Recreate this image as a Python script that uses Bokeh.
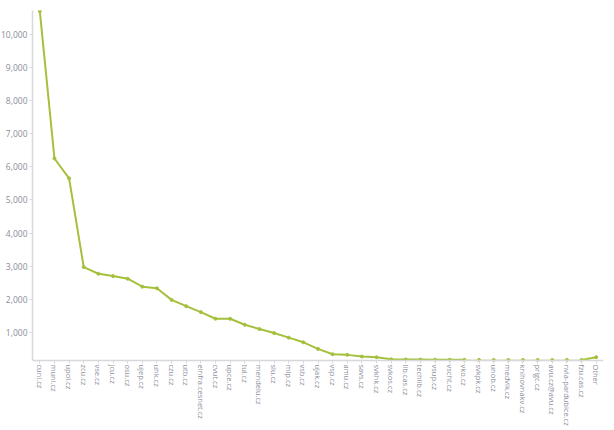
from bokeh.plotting import figure
from bokeh.models import Range1d, FixedTicker, NumeralTickFormatter, ColumnDataSource
from bokeh.embed import file_html
from bokeh.resources import INLINE

domains = ["cuni.cz", "muni.cz", "upol.cz", "zcu.cz", "vse.cz", "jcu.cz", "osu.cz",
           "ujep.cz", "uhk.cz", "czu.cz", "utb.cz", "einfra.cesnet.cz", "cvut.cz",
           "upce.cz", "tul.cz", "mendelu.cz", "slu.cz", "mlp.cz", "vsb.cz", "ujak.cz",
           "vsp.cz", "amu.cz", "savs.cz", "svkhk.cz", "svkos.cz", "lib.cas.cz",
           "techlib.cz", "vsup.cz", "vscht.cz", "vko.cz", "svkpk.cz", "unob.cz",
           "medvik.cz", "knihovnakv.cz", "prigc.cz", "avu.cz@avu.cz",
           "nvia-pardubice.cz", "fzu.cas.cz", "Other"]
counts = [10700, 6250, 5650, 2970, 2770, 2700, 2620, 2380, 2330, 1980, 1790, 1610,
          1410, 1410, 1230, 1100, 980, 840, 700, 500, 340, 320, 270, 250, 185,
          180, 178, 175, 172, 170, 168, 168, 168, 168, 168, 168, 168, 168, 250]
y_ticks = [1000, 2000, 3000, 4000, 5000, 6000, 7000, 8000, 9000, 10000]
Y_MIN, Y_MAX = 150, 10720

GREEN = "#a4c03c"
AXIS = "#d6d8dc"
LABEL = "#8a8d99"

# frame: plot area 350 px tall, plus 70 px of room for the rotated labels inside it
Y_LOW = Y_MIN - (Y_MAX - Y_MIN) * 70 / 350

src_main = ColumnDataSource(dict(x=domains[:30], y=counts[:30]))
src_faint = ColumnDataSource(dict(x=domains[29:38], y=counts[29:38]))
src_end = ColumnDataSource(dict(x=domains[37:], y=counts[37:]))
src_all = ColumnDataSource(dict(x=domains, y=counts))

p = figure(x_range=domains, y_range=Range1d(Y_LOW, Y_MAX), width=608, height=430,
           output_backend="svg", toolbar_location=None,
           min_border_left=2, min_border_right=2, min_border_top=10, min_border_bottom=0)
p.styles = {"margin-left": "-3px"}
p.outline_line_color = None
p.grid.visible = False

p.line("x", "y", source=src_main, line_color=GREEN, line_width=2)
p.line("x", "y", source=src_faint, line_color=GREEN, line_width=1.5, line_alpha=0.3)
p.line("x", "y", source=src_end, line_color=GREEN, line_width=2)
p.scatter("x", "y", source=src_all, size=3, color=GREEN)

p.yaxis.ticker = FixedTicker(ticks=y_ticks)
p.yaxis.formatter = NumeralTickFormatter(format="0,0")
p.yaxis.bounds = (Y_MIN, Y_MAX)
p.xaxis.fixed_location = Y_MIN
for ax in (p.xaxis[0], p.yaxis[0]):
    ax.axis_line_color = AXIS
    ax.axis_line_width = 1.5
    ax.major_tick_line_color = AXIS
    ax.major_tick_out = 3
    ax.major_tick_in = 0
    ax.minor_tick_line_color = None
    ax.major_label_text_color = LABEL
    ax.major_label_text_font = "Open Sans"
    ax.major_label_standoff = 2
p.yaxis.major_label_text_font_size = "8.5px"
p.xaxis.major_label_text_font_size = "7.5px"
p.xaxis.major_label_standoff = 1
p.xaxis.major_label_orientation = "vertical"

open("out.html", "w").write(file_html(p, INLINE))
